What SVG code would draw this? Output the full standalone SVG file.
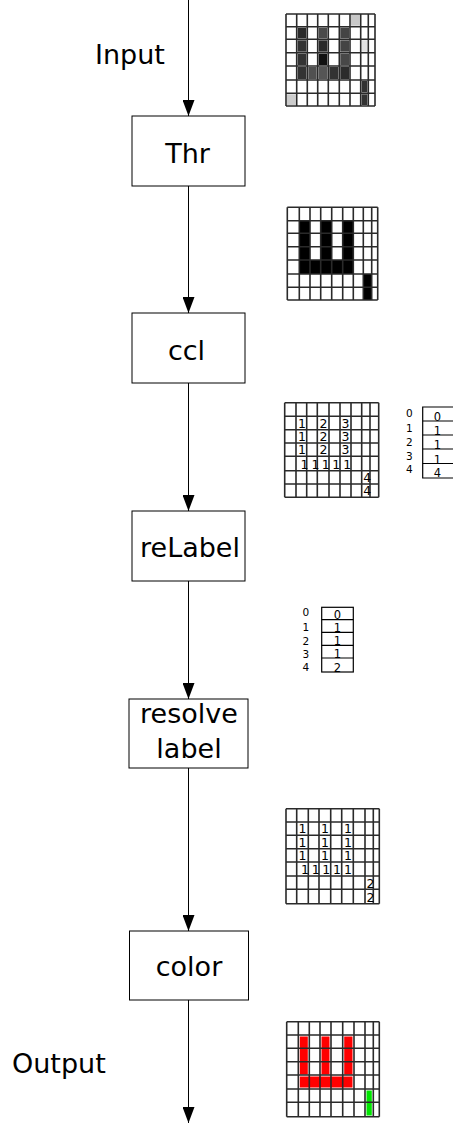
<svg xmlns="http://www.w3.org/2000/svg" width="453" height="1124" viewBox="0 0 453 1124">
<style>
.box{fill:#fff;stroke:#000;stroke-width:1}
.lbl{font-family:"DejaVu Sans",sans-serif;font-size:27px;fill:#000}
.ctr{text-anchor:middle}
.gl{fill:none;stroke:#2a2a2a;stroke-width:1.6}
.gbg{fill:#fff}
.num{font-family:"DejaVu Sans",sans-serif;font-size:12.5px;fill:#000}
.tl{font-family:"DejaVu Sans",sans-serif;font-size:10.5px;fill:#000}
.td{font-family:"DejaVu Sans",sans-serif;font-size:11.5px;fill:#000;text-anchor:middle}
.tb{fill:#fff;stroke:#000;stroke-width:1.2}
.conn{stroke:#000;stroke-width:1;fill:none;marker-end:url(#ah)}
</style>
<defs>
<marker id="ah" markerUnits="userSpaceOnUse" markerWidth="16" markerHeight="12" refX="16" refY="6" orient="auto">
<path d="M0,0 L16,6 L0,12 z" fill="#000"/>
</marker>
</defs>
<rect width="453" height="1124" fill="#fff"/>

<g id="connectors">
<line class="conn" x1="188.5" y1="0" x2="188.5" y2="116"/>
<line class="conn" x1="188.5" y1="186" x2="188.5" y2="313"/>
<line class="conn" x1="188.5" y1="383" x2="188.5" y2="511"/>
<line class="conn" x1="188.5" y1="581" x2="188.5" y2="699"/>
<line class="conn" x1="188.5" y1="768" x2="188.5" y2="931"/>
<line class="conn" x1="188.5" y1="1000" x2="188.5" y2="1123"/>
</g>

<g id="label-input"><text class="lbl" x="95" y="64">Input</text></g>
<g id="label-output"><text class="lbl" x="12" y="1073">Output</text></g>

<g id="node-thr">
<rect class="box" x="132" y="116" width="113" height="70"/>
<text class="lbl ctr" x="187.5" y="163">Thr</text>
</g>
<g id="node-ccl">
<rect class="box" x="132" y="313" width="113" height="70"/>
<text class="lbl ctr" x="186.5" y="360">ccl</text>
</g>
<g id="node-relabel">
<rect class="box" x="132" y="511" width="113" height="70"/>
<text class="lbl ctr" x="190" y="557">reLabel</text>
</g>
<g id="node-resolve">
<rect class="box" x="129" y="699" width="119" height="69"/>
<text class="lbl ctr" x="189" y="723">resolve</text>
<text class="lbl ctr" x="189" y="758">label</text>
</g>
<g id="node-color">
<rect class="box" x="129.5" y="931" width="119" height="69"/>
<text class="lbl ctr" x="189" y="976">color</text>
</g>

<g id="grid-input">
<rect class="gbg" x="286" y="14" width="89" height="92"/>
<rect x="351" y="15" width="8.7" height="10.7" fill="#c8c8c8"/>
<rect x="297.7" y="27.7" width="8.6" height="10.6" fill="#2a2a2a"/>
<rect x="318.7" y="27.7" width="8.6" height="10.6" fill="#4a4a4a"/>
<rect x="340.3" y="27.7" width="8.7" height="10.6" fill="#444"/>
<rect x="297.7" y="40.3" width="8.6" height="11.4" fill="#333"/>
<rect x="318.7" y="40.3" width="8.6" height="11.4" fill="#2a2a2a"/>
<rect x="340.3" y="40.3" width="8.7" height="11.4" fill="#444"/>
<rect x="361.7" y="40.3" width="5.6" height="11.4" fill="#e0e0e0"/>
<rect x="297.7" y="53.7" width="8.6" height="11.3" fill="#333"/>
<rect x="318.7" y="53.7" width="8.6" height="11.3" fill="#111"/>
<rect x="340.3" y="53.7" width="8.7" height="11.3" fill="#484848"/>
<rect x="297.7" y="67" width="8.6" height="12" fill="#333"/>
<rect x="308.3" y="67" width="8.4" height="12" fill="#505050"/>
<rect x="318.7" y="67" width="8.6" height="12" fill="#555"/>
<rect x="329.3" y="67" width="9" height="12" fill="#333"/>
<rect x="340.3" y="67" width="8.7" height="12" fill="#2c2c2c"/>
<rect x="361.7" y="81" width="5.6" height="11.3" fill="#333"/>
<rect x="287" y="94.3" width="8.7" height="10.7" fill="#ccc"/>
<rect x="361.7" y="94.3" width="5.6" height="10.7" fill="#333"/>
<path class="gl" d="M286,14V106M296.7,14V106M307.3,14V106M317.7,14V106M328.3,14V106M339.3,14V106M350,14V106M360.7,14V106M368.3,14V106M375,14V106M286,14H375M286,26.7H375M286,39.3H375M286,52.7H375M286,66H375M286,80H375M286,93.3H375M286,106H375"/>
</g>

<g id="grid-thr">
<rect class="gbg" x="287.3" y="207.3" width="90.4" height="92.7"/>
<g fill="#000">
<rect x="299.3" y="220.7" width="10.7" height="39.3"/>
<rect x="320.7" y="220.7" width="11" height="39.3"/>
<rect x="342.7" y="220.7" width="10.6" height="39.3"/>
<rect x="299.3" y="260" width="54" height="14"/>
<rect x="363.3" y="274" width="8.4" height="26"/>
</g>
<path class="gl" d="M287.3,207.3V300M299.3,207.3V300M310,207.3V300M320.7,207.3V300M331.7,207.3V300M342.7,207.3V300M353.3,207.3V300M363.3,207.3V300M371.7,207.3V300M377.7,207.3V300M287.3,207.3H377.7M287.3,220.7H377.7M287.3,233.3H377.7M287.3,246.7H377.7M287.3,260H377.7M287.3,274H377.7M287.3,287.3H377.7M287.3,300H377.7"/>
</g>

<g id="grid-ccl">
<rect class="gbg" x="284.7" y="402.7" width="94" height="94.6"/>
<path class="gl" d="M284.7,402.7V497.3M296,402.7V497.3M306.7,402.7V497.3M317.3,402.7V497.3M329,402.7V497.3M340,402.7V497.3M351,402.7V497.3M361.7,402.7V497.3M370,402.7V497.3M378.7,402.7V497.3M284.7,402.7H378.7M284.7,416.3H378.7M284.7,429.7H378.7M284.7,443H378.7M284.7,456.3H378.7M284.7,470.7H378.7M284.7,484H378.7M284.7,497.3H378.7"/>
<g class="num">
<text x="298" y="427.5">1</text><text x="319.5" y="427.5">2</text><text x="341.5" y="427.5">3</text>
<text x="298" y="441">1</text><text x="319.5" y="441">2</text><text x="341.5" y="441">3</text>
<text x="298" y="454.3">1</text><text x="319.5" y="454.3">2</text><text x="341.5" y="454.3">3</text>
<text x="300.5" y="468.5">1</text><text x="311.5" y="468.5">1</text><text x="321.7" y="468.5">1</text><text x="332.3" y="468.5">1</text><text x="343.3" y="468.5">1</text>
<text x="363.3" y="482">4</text>
<text x="363.3" y="495.3">4</text>
</g>
</g>

<g id="table-ccl">
<path class="tb" d="M455,407H422.7V478H455"/>
<path class="tb" d="M422.7,421H455M422.7,435H455M422.7,449H455M422.7,463.5H455"/>
<g class="tl">
<text x="406" y="417">0</text><text x="406" y="431.5">1</text><text x="406" y="446">2</text><text x="406" y="459.7">3</text><text x="406" y="473">4</text>
</g>
<g class="td">
<text x="437.5" y="421">0</text><text x="437.5" y="435">1</text><text x="437.5" y="449">1</text><text x="437.5" y="463.5">1</text><text x="437.5" y="477">4</text>
</g>
</g>

<g id="table-relabel">
<rect class="tb" x="321.7" y="607.3" width="31.6" height="64.7"/>
<path class="tb" d="M321.7,619.7H353.3M321.7,632.3H353.3M321.7,645.3H353.3M321.7,658H353.3"/>
<g class="tl">
<text x="302.5" y="616.3">0</text><text x="302.5" y="630.7">1</text><text x="302.5" y="644.7">2</text><text x="302.5" y="658">3</text><text x="302.5" y="670.7">4</text>
</g>
<g class="td">
<text x="337.5" y="619">0</text><text x="337.5" y="631.7">1</text><text x="337.5" y="645">1</text><text x="337.5" y="658">1</text><text x="337.5" y="671.5">2</text>
</g>
</g>

<g id="grid-resolved">
<rect class="gbg" x="286" y="808.7" width="93.3" height="95"/>
<path class="gl" d="M286,808.7V903.7M296.7,808.7V903.7M308.3,808.7V903.7M319,808.7V903.7M330.7,808.7V903.7M341.7,808.7V903.7M353.3,808.7V903.7M365,808.7V903.7M373.3,808.7V903.7M379.3,808.7V903.7M286,808.7H379.3M286,822H379.3M286,835.3H379.3M286,848.7H379.3M286,862H379.3M286,876H379.3M286,889.3H379.3M286,903.7H379.3"/>
<g class="num">
<text x="298.5" y="833">1</text><text x="321" y="833">1</text><text x="344" y="833">1</text>
<text x="298.5" y="846.5">1</text><text x="321" y="846.5">1</text><text x="344" y="846.5">1</text>
<text x="298.5" y="860">1</text><text x="321" y="860">1</text><text x="344" y="860">1</text>
<text x="301" y="874">1</text><text x="311.8" y="874">1</text><text x="322.3" y="874">1</text><text x="333" y="874">1</text><text x="344" y="874">1</text>
<text x="366.5" y="887.5">2</text>
<text x="366.5" y="901.5">2</text>
</g>
</g>

<g id="grid-color">
<rect class="gbg" x="286.7" y="1021.7" width="92.6" height="95"/>
<g fill="#ff0000">
<rect x="299.8" y="1036.5" width="8" height="38"/>
<rect x="321.5" y="1036.5" width="8" height="38"/>
<rect x="344.2" y="1036.5" width="8.3" height="38"/>
<rect x="299.8" y="1076.5" width="52.7" height="11"/>
</g>
<rect x="366.5" y="1090.5" width="5.3" height="25" fill="#00e600"/>
<path class="gl" d="M286.7,1021.7V1116.7M298.3,1021.7V1116.7M309.3,1021.7V1116.7M320,1021.7V1116.7M331,1021.7V1116.7M342.7,1021.7V1116.7M354,1021.7V1116.7M365,1021.7V1116.7M373.3,1021.7V1116.7M379.3,1021.7V1116.7M286.7,1021.7H379.3M286.7,1035H379.3M286.7,1048.3H379.3M286.7,1061.7H379.3M286.7,1075H379.3M286.7,1089H379.3M286.7,1102.3H379.3M286.7,1116.7H379.3"/>
</g>
</svg>
